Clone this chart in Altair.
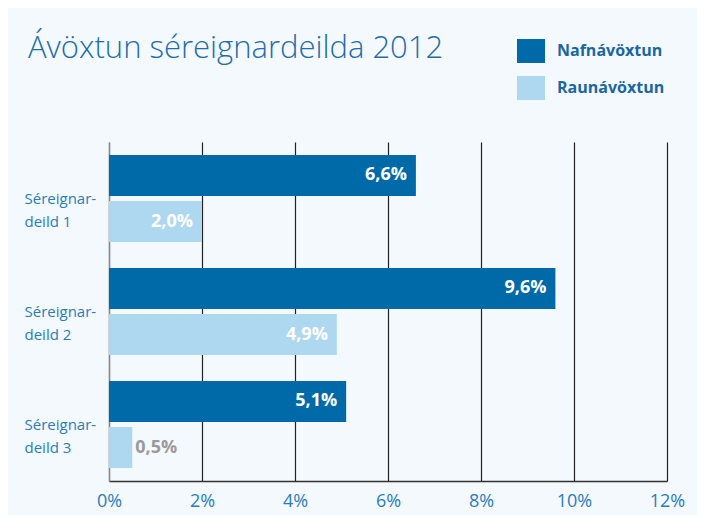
import altair as alt
import pandas as pd

deildir = ["Séreignar-deild 1", "Séreignar-deild 2", "Séreignar-deild 3"]
nafnavoxtun = [6.6, 9.6, 5.1]
raunavoxtun = [2.0, 4.9, 0.5]
series = ["Nafnávöxtun", "Raunávöxtun"]
x_ticks = [0, 2, 4, 6, 8, 10, 12]

rows = []
for d, n, r in zip(deildir, nafnavoxtun, raunavoxtun):
    rows.append({"deild": d, "tegund": series[0], "v": n})
    rows.append({"deild": d, "tegund": series[1], "v": r})
df = pd.DataFrame(rows)

FONT = "Open Sans"
DARK = "#006aa8"
LIGHT = "#aed8ef"
TXT = "#2a7dbb"

y_enc = alt.Y("deild:N", title=None,
              scale=alt.Scale(paddingInner=0, paddingOuter=0),
              axis=alt.Axis(labelExpr="[split(datum.label,'-')[0] + '-', split(datum.label,'-')[1]]",
                            labelAlign="left", labelPadding=85, ticks=False, tickSize=0,
                            labelFont=FONT, labelFontSize=15, labelColor=TXT,
                            labelLineHeight=23, labelBaseline="middle",
                            domainColor="#8a8a8a", domainWidth=1.5))
yoff = alt.YOffset("tegund:N", scale=alt.Scale(paddingInner=0.11, paddingOuter=0.283))

base = alt.Chart(df)

bars = base.mark_bar().encode(
    x=alt.X("v:Q", title=None,
            scale=alt.Scale(domain=[0, 12], nice=False),
            axis=alt.Axis(values=x_ticks, labelExpr="datum.value + '%'",
                          labelAlign="center", labelFlush=False,
                          ticks=False, tickSize=0, labelPadding=11,
                          labelFont=FONT, labelFontSize=18, labelColor=TXT,
                          domainColor="#333333", domainWidth=1.5,
                          grid=True,
                          gridColor=alt.condition("datum.value === 0", alt.value("#8a8a8a"), alt.value("#222222")),
                          gridWidth=1.2)),
    y=y_enc,
    yOffset=yoff,
    color=alt.Color("tegund:N", title=None,
                    scale=alt.Scale(domain=series, range=[DARK, LIGHT]),
                    legend=alt.Legend(orient="none", legendX=410, legendY=-103,
                                      symbolType="M-1.167,-1H1.167V1H-1.167Z",
                                      symbolSize=576, symbolStrokeWidth=0,
                                      labelOffset=14, rowPadding=13, padding=0,
                                      labelFont=FONT, labelFontSize=16, labelFontWeight="bold",
                                      labelColor="#1a66a3")),
)

lab = base.transform_calculate(
    txt="replace(format(datum.v, '.1f'), '.', ',') + '%'"
)

inside = lab.transform_filter("datum.v >= 1").mark_text(
    align="right", baseline="middle", dx=-9, font=FONT, fontSize=18,
    fontWeight="bold", color="white"
).encode(x="v:Q", y=alt.Y("deild:N"), yOffset=yoff, text="txt:N")

outside = lab.transform_filter("datum.v < 1").mark_text(
    align="left", baseline="middle", dx=3, font=FONT, fontSize=18,
    fontWeight="bold", color="#9a9a9a"
).encode(x="v:Q", y=alt.Y("deild:N"), yOffset=yoff, text="txt:N")

chart = alt.layer(bars, inside, outside).properties(
    width=558, height=339,
    autosize=alt.AutoSizeParams(type="none"),
    padding={"left": 101, "top": 134, "right": 30, "bottom": 34},
    background="#f4f9fd",
    title=alt.TitleParams("Ávöxtun séreignardeilda 2012", anchor="start", frame="group",
                          dx=-81, offset=-26, font=FONT, fontSize=31, fontWeight=300,
                          color="#1f6dab"),
).configure_view(stroke=None)

chart.save("out.html", embed_options={"renderer": "svg", "actions": False})
